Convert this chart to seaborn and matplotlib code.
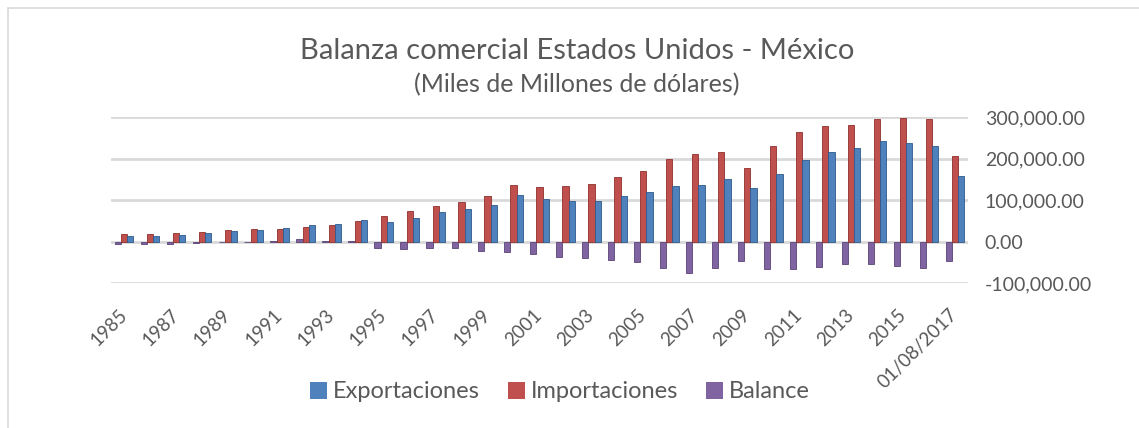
import matplotlib
matplotlib.use("Agg")
import matplotlib.pyplot as plt
from matplotlib.lines import Line2D
from matplotlib.patches import Patch
import seaborn as sns
import pandas as pd

# Datos (millones de dólares)
years = [str(y) for y in range(1985, 2017)] + ["01/08/2017"]
exportaciones = [12399, 12392, 14582, 20629, 24982, 28279, 33277, 40592, 41581, 50844,
                 46292, 56792, 71388, 78773, 86909, 111349, 101297, 97531, 97412, 110731,
                 120248, 133722, 135918, 151220, 128892, 163665, 197544, 215875, 225954,
                 241007, 236460, 229702, 157000]
importaciones = [19132, 17302, 20271, 23260, 27162, 30157, 31130, 35211, 39918, 49494,
                 62100, 74297, 85938, 94629, 109721, 135926, 131338, 134616, 138060, 155902,
                 170109, 198253, 210714, 215942, 176654, 229986, 262874, 277594, 280529,
                 295730, 296408, 294151, 205000]
balance = [-6732, -4910, -5689, -2631, -2181, -1878, 2147, 5382, 1663, 1350,
           -15808, -17506, -14549, -15857, -22812, -24577, -30041, -37085, -40648, -45170,
           -49861, -64532, -74796, -64722, -47762, -66321, -65330, -61719, -54574,
           -54723, -59948, -64449, -48000]

series_names = ["Exportaciones", "Importaciones", "Balance"]
colors = {"Exportaciones": "#4F81BD", "Importaciones": "#C0504D", "Balance": "#8064A2"}
edges = {"Exportaciones": "#2F5A8C", "Importaciones": "#8E2F2C", "Balance": "#5A4378"}

df = pd.DataFrame({
    "Año": years * 3,
    "Serie": ["Exportaciones"] * len(years) + ["Importaciones"] * len(years) + ["Balance"] * len(years),
    "Valor": exportaciones + importaciones + balance,
})

sns.set_theme(style="white")
plt.rcParams["font.family"] = ["Lato", "DejaVu Sans"]
text_color = "#595959"

fig = plt.figure(figsize=(11.39, 4.28), dpi=100)
W, H = 1139, 428
ax = fig.add_axes([111 / W, 1 - 283 / H, (968 - 111) / W, (283 - 117) / H])

# orden visual dentro de cada grupo: Balance, Importaciones, Exportaciones
draw_order = ["Balance", "Importaciones", "Exportaciones"]
sns.barplot(data=df, x="Año", y="Valor", hue="Serie", order=years, hue_order=draw_order,
            palette=colors, width=0.72, ax=ax, legend=False, saturation=1)
for container, name in zip(ax.containers, draw_order):
    for bar in container:
        bar.set_edgecolor(edges[name])
        bar.set_linewidth(0.6)

ax.set_ylim(-100000, 300000)
ax.set_yticks([-100000, 0, 100000, 200000, 300000])
ax.yaxis.tick_right()
ax.set_yticklabels([f"{v:,.2f}" for v in ax.get_yticks()])
ax.grid(axis="y", color="#D9D9D9", linewidth=2)
ax.set_axisbelow(True)
for s in ax.spines.values():
    s.set_visible(False)
ax.set_xlim(-0.5, len(years) - 0.5)
ax.set_xlabel("")
ax.set_ylabel("")

ax.set_xticks(range(len(years)))
ax.set_xticklabels([y if i % 2 == 0 else "" for i, y in enumerate(years)])
ax.tick_params(axis="x", length=0, pad=21, labelsize=13.5, colors=text_color)
ax.tick_params(axis="y", length=0, pad=12, labelsize=14, colors=text_color)
for lab in ax.get_xticklabels():
    lab.set_rotation(45)
    lab.set_rotation_mode("anchor")
    lab.set_ha("right")
    lab.set_va("center")

fig.text(577 / W, 1 - 59 / H, "Balanza comercial Estados Unidos - México",
         ha="center", va="baseline", fontsize=21, color=text_color)
fig.text(577 / W, 1 - 92 / H, "(Miles de Millones de dólares)",
         ha="center", va="baseline", fontsize=18, color=text_color)

handles = [Patch(facecolor=colors[n], edgecolor="none") for n in series_names]
fig.legend(handles, series_names, loc="center", bbox_to_anchor=(560 / W, 1 - 392 / H),
           ncol=3, frameon=False, fontsize=17, labelcolor=text_color,
           handlelength=0.7, handleheight=0.7, handletextpad=0.25, columnspacing=1.2)

# marco del gráfico
fig.add_artist(Line2D([8 / W, 8 / W], [0, 1 - 8 / H], color="#D9D9D9", linewidth=1.2))
fig.add_artist(Line2D([8 / W, 1], [1 - 8 / H, 1 - 8 / H], color="#D9D9D9", linewidth=1.2))

fig.savefig("out.png", dpi=100, facecolor="white")
